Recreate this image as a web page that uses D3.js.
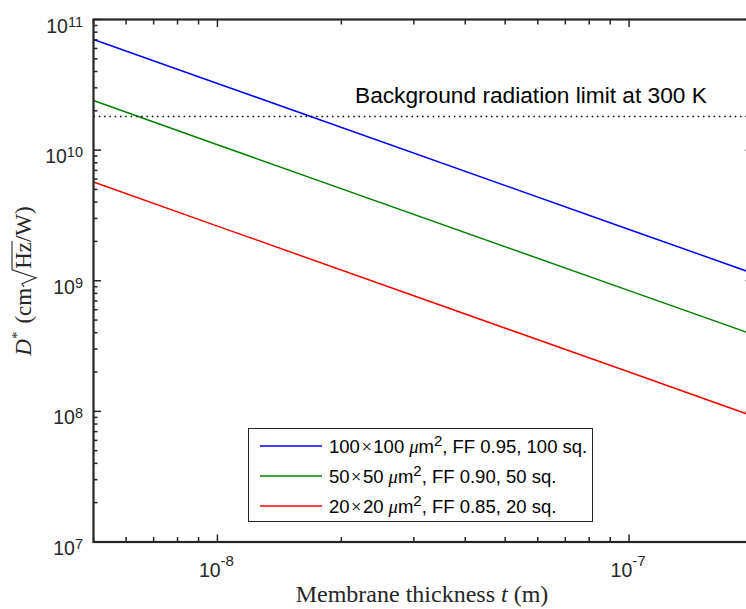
<!DOCTYPE html>
<html>
<head>
<meta charset="utf-8">
<script src="https://cdn.jsdelivr.net/npm/d3@7"></script>
<style>
  body { margin: 0; background: #fff; }
  svg { display: block; }
</style>
</head>
<body>
<svg width="746" height="609"></svg>
<script>
// values (straight lines on log-log)
var thickness = [5e-9, 1e-8, 1e-7, 2e-7];
var d100 = [7.03e10, 3.24e10, 2.47e9, 1.14e9];
var d50 = [2.40e10, 1.10e10, 8.4e8, 3.88e8];
var d20 = [5.70e9, 2.62e9, 2.0e8, 9.2e7];
var bgLimit = 1.81e10;

var legendParts = [["100", "100", ", FF 0.95, 100 sq."], ["50", "50", ", FF 0.90, 50 sq."], ["20", "20", ", FF 0.85, 20 sq."]];
var colors = ["#0000ff", "#008000", "#ff0000"];
var series = [d100, d50, d20];

var xTicks = [1e-8, 1e-7];
var yTicks = [1e7, 1e8, 1e9, 1e10, 1e11];

var axisColor = "#262626";
// note: "top" is taken by window.top, so use other names
var pLeft = 93.5, pRight = 753, pTop = 19.5, pBottom = 542;

var svg = d3.select("svg");

var x = d3.scaleLog().domain([5e-9, 2e-7]).range([pLeft, pRight]);
var y = d3.scaleLog().domain([1e7, 1e11]).range([pBottom, pTop]);

var line = d3.line()
    .x(function(d) { return x(d[0]); })
    .y(function(d) { return y(d[1]); });

var plot = svg.append("g");

// data lines
series.forEach(function(s, i) {
  plot.append("path")
      .datum(thickness.map(function(t, j) { return [t, s[j]]; }))
      .attr("d", line)
      .attr("fill", "none")
      .attr("stroke", colors[i])
      .attr("stroke-width", 1.5);
});

// background limit
plot.append("line")
    .attr("x1", x(5e-9)).attr("x2", x(2e-7))
    .attr("y1", y(bgLimit)).attr("y2", y(bgLimit))
    .attr("stroke", "#000")
    .attr("stroke-width", 1.5)
    .attr("stroke-dasharray", "1.5,3.8");

var sans = "Liberation Sans, Arial, sans-serif";
var serif = "Liberation Serif, Times New Roman, serif";

svg.append("text")
    .attr("x", 355).attr("y", 103)
    .attr("font-family", sans)
    .attr("font-size", 22.7)
    .attr("fill", "#000")
    .text("Background radiation limit at 300 K");

// minor ticks
var minorX = [];
[1e-9, 1e-8, 1e-7].forEach(function(dec) {
  for (var k = 2; k <= 9; k++) {
    var v = dec * k;
    if (v >= 5e-9 && v <= 2e-7) minorX.push(v);
  }
});
var minorY = [];
[1e7, 1e8, 1e9, 1e10].forEach(function(dec) {
  for (var k = 2; k <= 9; k++) minorY.push(dec * k);
});

var axes = svg.append("g").attr("stroke", axisColor).attr("stroke-width", 1.5);

function tickX(v, len) {
  axes.append("line").attr("x1", x(v)).attr("x2", x(v)).attr("y1", pBottom).attr("y2", pBottom - len);
  axes.append("line").attr("x1", x(v)).attr("x2", x(v)).attr("y1", pTop).attr("y2", pTop + len);
}
function tickY(v, len) {
  axes.append("line").attr("y1", y(v)).attr("y2", y(v)).attr("x1", pLeft).attr("x2", pLeft + len);
  axes.append("line").attr("y1", y(v)).attr("y2", y(v)).attr("x1", pRight).attr("x2", pRight - len);
}
minorX.forEach(function(v) { tickX(v, 5); });
xTicks.forEach(function(v) { tickX(v, 7.5); });
minorY.forEach(function(v) { tickY(v, 4); });
yTicks.forEach(function(v) { tickY(v, 7.5); });

axes.append("rect")
    .attr("x", pLeft).attr("y", pTop)
    .attr("width", pRight - pLeft).attr("height", pBottom - pTop)
    .attr("fill", "none")
    .attr("stroke-width", 2.2);

// tick labels
xTicks.forEach(function(v) {
  var t = svg.append("text")
      .attr("x", x(v) - 1).attr("y", 577)
      .attr("text-anchor", "middle")
      .attr("font-family", sans)
      .attr("font-size", 19.5)
      .attr("fill", axisColor);
  t.append("tspan").text("10");
  t.append("tspan").attr("dy", -11).attr("font-size", 15).text(Math.round(Math.log10(v)));
});
yTicks.forEach(function(v) {
  var t = svg.append("text")
      .attr("x", 83).attr("y", y(v) + 13)
      .attr("text-anchor", "end")
      .attr("font-family", sans)
      .attr("font-size", 19.5)
      .attr("fill", axisColor);
  t.append("tspan").text("10");
  t.append("tspan").attr("dy", -6).attr("font-size", 14.5).text(Math.round(Math.log10(v)));
});

// axis titles
var xt = svg.append("text")
    .attr("x", 422).attr("y", 602)
    .attr("text-anchor", "middle")
    .attr("font-family", serif)
    .attr("font-size", 24)
    .attr("fill", axisColor);
xt.append("tspan").text("Membrane thickness ");
xt.append("tspan").attr("font-style", "italic").text("t");
xt.append("tspan").text(" (m)");

// y title: D* (cm sqrt(Hz)/W), built piece by piece in a rotated group
var yg = svg.append("g").attr("transform", "translate(31,281) rotate(-90)");
var yfs = 23;
var pieces = [];
function addPiece(txt, opts) {
  var t = yg.append("text")
      .attr("font-family", serif)
      .attr("font-size", opts.size || yfs)
      .attr("font-style", opts.italic ? "italic" : "normal")
      .attr("fill", axisColor)
      .text(txt);
  pieces.push({ node: t, dy: opts.dy || 0, gap: opts.gap || 0 });
  return t;
}
addPiece("D", { italic: true });
addPiece("*", { size: 15, dy: -9 });
addPiece("(cm", { gap: 8 });
var radGap = 19;
var hzPiece = addPiece("Hz", { gap: radGap });
addPiece("/W)", {});
var cx = 0, hzStart = 0, hzEnd = 0;
pieces.forEach(function(p) {
  cx += p.gap;
  p.node.attr("x", cx).attr("y", p.dy);
  if (p.node === hzPiece) hzStart = cx;
  cx += p.node.node().getComputedTextLength();
  if (p.node === hzPiece) hzEnd = cx;
});
var total = cx;
yg.selectAll("text").attr("transform", "translate(" + (-total / 2) + ",0)");
// radical sign
var r0 = hzStart - radGap - total / 2 + 1;
yg.append("path")
    .attr("d", "M" + r0 + ",-7 L" + (r0 + 3) + ",-9 L" + (r0 + 9) + ",5 L" + (r0 + 17) + ",-19 L" + (hzEnd - total / 2 + 1) + ",-19")
    .attr("fill", "none")
    .attr("stroke", axisColor)
    .attr("stroke-width", 1.1);

// legend
var lg = svg.append("g");
lg.append("rect")
    .attr("x", 248.5).attr("y", 428.5)
    .attr("width", 344).attr("height", 93)
    .attr("fill", "#fff")
    .attr("stroke", axisColor)
    .attr("stroke-width", 1);
var rowY = [446, 476, 506];
legendParts.forEach(function(p, i) {
  lg.append("line")
      .attr("x1", 260).attr("x2", 322)
      .attr("y1", rowY[i]).attr("y2", rowY[i])
      .attr("stroke", colors[i])
      .attr("stroke-width", 1.5);
  var t = lg.append("text")
      .attr("x", 329).attr("y", rowY[i] + 7)
      .attr("font-family", sans)
      .attr("font-size", 18.5)
      .attr("fill", "#000");
  t.append("tspan").text(p[0]);
  t.append("tspan").attr("dx", 1.5).attr("font-family", serif).text("×");
  t.append("tspan").attr("dx", 1.5).text(p[1]);
  t.append("tspan").attr("dx", 5).attr("font-family", serif).attr("font-style", "italic").text("μ");
  t.append("tspan").text("m");
  t.append("tspan").attr("dy", -7.5).attr("font-size", 15).text("2");
  t.append("tspan").attr("dy", 7.5).text(p[2]);
});
</script>
</body>
</html>
